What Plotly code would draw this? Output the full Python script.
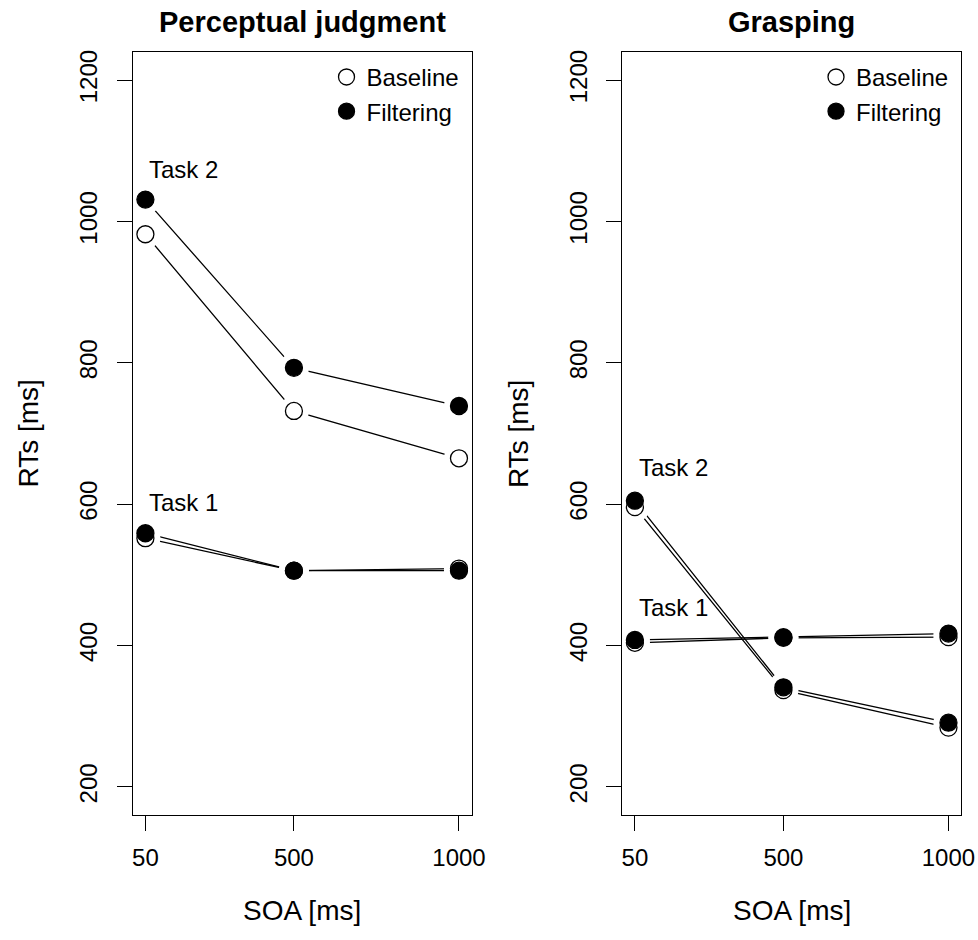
import plotly.graph_objects as go

# Stimulus onset asynchrony levels (ms)
soa = [50, 500, 1000]

# Mean response times (ms) per task, condition and SOA
perc_task2_baseline = [982, 732, 665]
perc_task2_filtering = [1031, 793, 739]
perc_task1_baseline = [552, 506, 509]
perc_task1_filtering = [559, 506, 506]

grasp_task2_baseline = [596, 337, 284]
grasp_task2_filtering = [605, 341, 291]
grasp_task1_baseline = [404, 411, 412]
grasp_task1_filtering = [408, 412, 417]

panel_titles = ["Perceptual judgment", "Grasping"]
condition_names = ["Baseline", "Filtering"]
y_ticks = [200, 400, 600, 800, 1000, 1200]

# Task label anchors: (x, y) in data units for each panel
task_labels = [
    [("Task 2", 50, 1073), ("Task 1", 50, 603)],
    [("Task 2", 50, 652), ("Task 1", 50, 454)],
]

FONT = "Liberation Sans, Arial, Helvetica, sans-serif"
W, H = 978, 940
PW = 964  # usable paper width in px for placing panels

fig = go.Figure()

panels = [
    dict(series=[(perc_task2_baseline, perc_task2_filtering),
                 (perc_task1_baseline, perc_task1_filtering)],
         xa="x", ya="y", legend="legend"),
    dict(series=[(grasp_task2_baseline, grasp_task2_filtering),
                 (grasp_task1_baseline, grasp_task1_filtering)],
         xa="x2", ya="y2", legend="legend2"),
]

marker_size = 17
gap_size = 30

for p in panels:
    xa, ya = p["xa"], p["ya"]
    # connecting lines
    for base, filt in p["series"]:
        for vals in (base, filt):
            fig.add_trace(go.Scatter(
                x=soa, y=vals, mode="lines", xaxis=xa, yaxis=ya,
                line=dict(color="black", width=1.3),
                showlegend=False, hoverinfo="skip"))
    # white discs so the lines stop short of each point (type="b" look)
    for base, filt in p["series"]:
        for vals in (base, filt):
            fig.add_trace(go.Scatter(
                x=soa, y=vals, mode="markers", xaxis=xa, yaxis=ya,
                marker=dict(size=gap_size, color="white", line=dict(width=0)),
                showlegend=False, hoverinfo="skip"))
    # points: open = baseline, filled = filtering
    for i, (base, filt) in enumerate(p["series"]):
        fig.add_trace(go.Scatter(
            x=soa, y=base, mode="markers", xaxis=xa, yaxis=ya,
            name=condition_names[0], legend=p["legend"],
            showlegend=(i == 0),
            marker=dict(size=marker_size, color="white",
                        line=dict(color="black", width=1.3))))
        fig.add_trace(go.Scatter(
            x=soa, y=filt, mode="markers", xaxis=xa, yaxis=ya,
            name=condition_names[1], legend=p["legend"],
            showlegend=(i == 0),
            marker=dict(size=marker_size, color="black",
                        line=dict(color="black", width=1.3))))

# panel boxes in pixels
x_dom = [(132 / PW, 471 / PW), (622 / PW, 961 / PW)]
y_dom = (1 - 815 / H, 1 - 50 / H)

axis_common = dict(
    showline=True, mirror=True, linecolor="black", linewidth=1.3,
    ticks="outside", ticklen=15, tickwidth=1.3, tickcolor="black",
    showgrid=False, zeroline=False,
    tickfont=dict(family=FONT, size=24, color="black"),
)

layout_axes = {}
for k, (xn, yn) in enumerate([("xaxis", "yaxis"), ("xaxis2", "yaxis2")]):
    layout_axes[xn] = dict(
        axis_common, domain=list(x_dom[k]), range=[12, 1038],
        tickvals=soa, ticktext=[str(v) for v in soa],
        anchor="y" if k == 0 else "y2", ticklabelstandoff=6)
    layout_axes[yn] = dict(
        axis_common, domain=list(y_dom), range=[160, 1240],
        tickvals=y_ticks, ticktext=[str(v) for v in y_ticks],
        tickangle=-90, anchor="x" if k == 0 else "x2",
        ticklabelstandoff=10)

annotations = []
for k in range(2):
    cx = (x_dom[k][0] + x_dom[k][1]) / 2
    annotations.append(dict(
        text="<b>" + panel_titles[k] + "</b>", x=cx, y=1 - 20 / H,
        xref="paper", yref="paper", showarrow=False,
        font=dict(family=FONT, size=29, color="black"),
        xanchor="center", yanchor="middle"))
    annotations.append(dict(
        text="SOA [ms]", x=cx, y=1 - 910 / H, xref="paper", yref="paper",
        showarrow=False, font=dict(family=FONT, size=28, color="black"),
        xanchor="center", yanchor="middle"))
    annotations.append(dict(
        text="RTs [ms]", x=(x_dom[k][0] * PW - 104) / PW,
        y=(y_dom[0] + y_dom[1]) / 2, xref="paper", yref="paper",
        textangle=-90, showarrow=False,
        font=dict(family=FONT, size=28, color="black"),
        xanchor="center", yanchor="middle"))
    xr = "x" if k == 0 else "x2"
    yr = "y" if k == 0 else "y2"
    for txt, tx, ty in task_labels[k]:
        annotations.append(dict(
            text=txt, x=tx, y=ty, xref=xr, yref=yr, showarrow=False,
            xanchor="left", yanchor="middle", xshift=2,
            font=dict(family=FONT, size=24, color="black")))

legend_common = dict(
    xanchor="right", yanchor="top", bgcolor="rgba(0,0,0,0)",
    font=dict(family=FONT, size=24, color="black"),
    itemsizing="trace", tracegroupgap=0, itemwidth=30)

fig.update_layout(
    width=W, height=H,
    margin=dict(l=0, r=0, t=0, b=0),
    paper_bgcolor="white", plot_bgcolor="white",
    showlegend=True,
    legend=dict(legend_common, x=(471 - 7) / PW, y=1 - 53 / H),
    legend2=dict(legend_common, x=(961 - 7) / PW, y=1 - 53 / H),
    annotations=annotations,
    **layout_axes,
)

fig.write_html("out.html")
